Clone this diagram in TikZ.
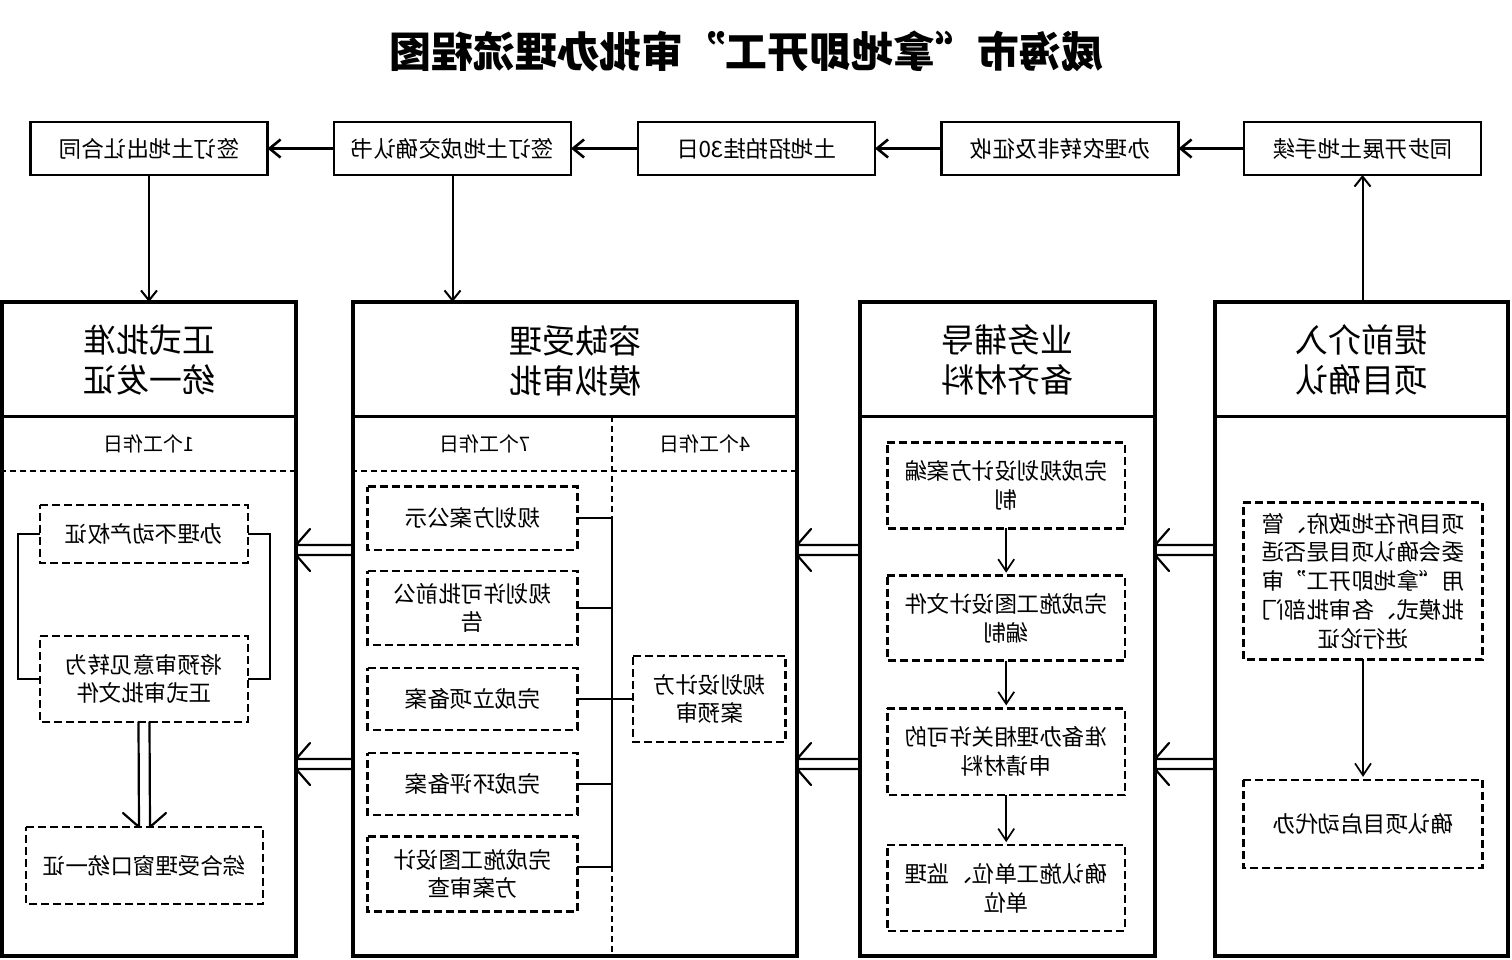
\documentclass[tikz,border=0pt]{standalone}
\usepackage{fontspec}
\setmainfont{Noto Sans CJK SC}
\usetikzlibrary{arrows.meta,calc}
\newcommand\mydblh[2]{%
  \draw[dblline] ($(#1)+(0,-5)$) -- ($(#2)+(0,-5)$) -- ++(-14,-16);
  \draw[dblline] ($(#1)+(0,5)$) -- ($(#2)+(0,5)$) -- ++(-14,16);}
\newcommand\mydblv[2]{%
  \draw[dblline] ($(#1)+(-5.5,0)$) -- ($(#2)+(-5.5,0)$) -- ++(-16,-14);
  \draw[dblline] ($(#1)+(5.5,0)$) -- ($(#2)+(5.5,0)$) -- ++(16,-14);}
\begin{document}
\begin{tikzpicture}[x=1pt,y=-1pt,
  every node/.style={inner sep=0pt, outer sep=0pt, align=center,
    font=\fontsize{22.5}{28.7}\selectfont},
  col/.style={draw, line width=3.2pt, minimum width=#1, minimum height=654pt},
  topbox/.style={draw, line width=2.5pt, minimum width=237pt, minimum height=53pt},
  dbox/.style={draw, line width=2.6pt, dash pattern=on 8pt off 4pt},
  headtxt/.style={font=\fontsize{33}{40}\selectfont},
  subtxt/.style={font=\fontsize{20}{24}\selectfont},
  sepline/.style={line width=3pt},
  subdash/.style={line width=2pt, dash pattern=on 6pt off 4pt},
  bracket/.style={line width=2pt},
  dblline/.style={line width=2.2pt, line join=round, line cap=round},
  toparr/.style={line width=2.6pt, -{Straight Barb[length=11pt,width=18pt]}},
  downarr/.style={line width=2pt, -{Straight Barb[length=10pt,width=16pt]}},
  smallarr/.style={line width=1.7pt, shorten >=3pt, -{Straight Barb[length=12pt,width=16pt]}}
]
\useasboundingbox (0,0) rectangle (1512,959);
\begin{scope}[xshift=1512pt, xscale=-1, transform shape]

% title
\node[font=\fontsize{42}{48}\selectfont\bfseries] (title) at (766,51) {威海市“拿地即开工”审批办理流程图};

% top row
\node[topbox] (E) at (149.5,148.5) {同步开展土地手续};
\node[topbox] (D) at (452,148.5) {办理农转非及征收};
\node[topbox] (C) at (755.5,148.5) {土地招拍挂30日};
\node[topbox] (B) at (1059.5,148.5) {签订土地成交确认书};
\node[topbox] (A) at (1363,148.5) {签订土地出让合同};
\draw[toparr] (E) -- (D);
\draw[toparr] (D) -- (C);
\draw[toparr] (C) -- (B);
\draw[toparr] (B) -- (A);

% columns
\node[col=293pt] (c4) at (150.5,629) {};
\node[col=295pt] (c3) at (504.5,629) {};
\node[col=444pt] (c2) at (937,629) {};
\node[col=294pt] (c1) at (1363,629) {};

\draw[sepline] (4,416) -- (297,416);
\draw[sepline] (357,416) -- (652,416);
\draw[sepline] (715,416) -- (1159,416);
\draw[sepline] (1216,416) -- (1510,416);
\draw[subdash] (715,471) -- (1159,471);
\draw[subdash] (1216,471) -- (1510,471);
\draw[subdash] (900,416) -- (900,956);

% column headers
\node[headtxt] (h4) at (150.5,360) {提前介入\\项目确认};
\node[headtxt] (h3) at (504.5,360) {业务辅导\\备齐材料};
\node[headtxt] (h2) at (937,361) {容缺受理\\模拟审批};
\node[headtxt] (h1) at (1363,360) {正式批准\\统一发证};
\node[subtxt] (s1) at (1363,444) {1个工作日};
\node[subtxt] (s2a) at (807,444) {4个工作日};
\node[subtxt] (s2b) at (1027,444) {7个工作日};

% vertical arrows from / to top row
\draw[downarr] (A.south) -- (A.south |- c1.north);
\draw[downarr] (B.south) -- (B.south |- c2.north);
\draw[downarr] (E.south |- c4.north) -- (E.south);

% column 4
\node[dbox, minimum width=239.4pt, minimum height=156.6pt] (b41) at (149,581)
  {项目所在地政府、管\\委会确认项目是否适\\用“拿地即开工”审\\批模式、各审批部门\\进行论证};
\node[dbox, minimum width=239.4pt, minimum height=88.3pt] (b42) at (149,824) {确认项目启动代办};
\draw[smallarr] (b41.south) -- (b42.north);

% column 3
\node[dbox, minimum width=237.7pt, minimum height=85.6pt] (b31) at (505.8,485.5) {完成规划设计方案编\\制};
\node[dbox, minimum width=237.7pt, minimum height=85pt] (b32) at (505.8,618.2) {完成施工图设计文件\\编制};
\node[dbox, minimum width=237.7pt, minimum height=86.7pt] (b33) at (505.8,751.7) {准备办理相关许可的\\申请材料};
\node[dbox, minimum width=237.7pt, minimum height=85.7pt] (b34) at (505.8,888) {确认施工单位、监理\\单位};
\draw[smallarr] (b31.south) -- (b32.north);
\draw[smallarr] (b32.south) -- (b33.north);
\draw[smallarr] (b33.south) -- (b34.north);

% column 2
\node[dbox, minimum width=152.7pt, minimum height=85.7pt] (b26) at (802.7,699) {规划设计方\\案预审};
\node[dbox, minimum width=209.6pt, minimum height=63.3pt] (b21) at (1039.5,518.3) {规划方案公示};
\node[dbox, minimum width=209.6pt, minimum height=74pt] (b22) at (1039.5,608) {规划许可批前公\\告};
\node[dbox, minimum width=209.6pt, minimum height=62pt] (b23) at (1039.5,699) {完成立项备案};
\node[dbox, minimum width=209.6pt, minimum height=62pt] (b24) at (1039.5,784) {完成环评备案};
\node[dbox, minimum width=209.6pt, minimum height=75pt] (b25) at (1039.5,874) {完成施工图设计\\方案审查};
\coordinate (busT) at (900,518);
\coordinate (busB) at (900,867);
\draw[bracket] (busT) -- (busB);
\draw[bracket] (b21.west) -- (b21.west -| busT);
\draw[bracket] (b22.west) -- (b22.west -| busT);
\draw[bracket] (b23.west) -- (b23.west -| busT);
\draw[bracket] (b24.west) -- (b24.west -| busT);
\draw[bracket] (b25.west |- busB) -- (busB);
\draw[bracket] (b26.east) -- (b26.east -| busT);

% column 1
\node[dbox, minimum width=208pt, minimum height=58pt] (b11) at (1368,534) {办理不动产权证};
\node[dbox, minimum width=208pt, minimum height=86pt] (b12) at (1368,679) {将预审意见转为\\正式审批文件};
\node[dbox, minimum width=237pt, minimum height=77pt] (b13) at (1367.5,865.5) {综合受理窗口统一证};
\draw[bracket] (b11.west) -- ++(-22,0) |- (b12.west);
\draw[bracket] (b11.east) -- ++(22,0) |- (b12.east);
\mydblv{b12.south}{b13.north}

% double arrows between columns
\coordinate (p1s) at (c4.east |- 0,550);
\coordinate (p1t) at (c3.west |- 0,550);
\coordinate (p2s) at (c4.east |- 0,764);
\coordinate (p2t) at (c3.west |- 0,764);
\coordinate (p3s) at (c3.east |- 0,550);
\coordinate (p3t) at (c2.west |- 0,550);
\coordinate (p4s) at (c3.east |- 0,764);
\coordinate (p4t) at (c2.west |- 0,764);
\coordinate (p5s) at (c2.east |- 0,550);
\coordinate (p5t) at (c1.west |- 0,550);
\coordinate (p6s) at (c2.east |- 0,764);
\coordinate (p6t) at (c1.west |- 0,764);
\mydblh{p1s}{p1t}
\mydblh{p2s}{p2t}
\mydblh{p3s}{p3t}
\mydblh{p4s}{p4t}
\mydblh{p5s}{p5t}
\mydblh{p6s}{p6t}
\end{scope}
\end{tikzpicture}
\end{document}
